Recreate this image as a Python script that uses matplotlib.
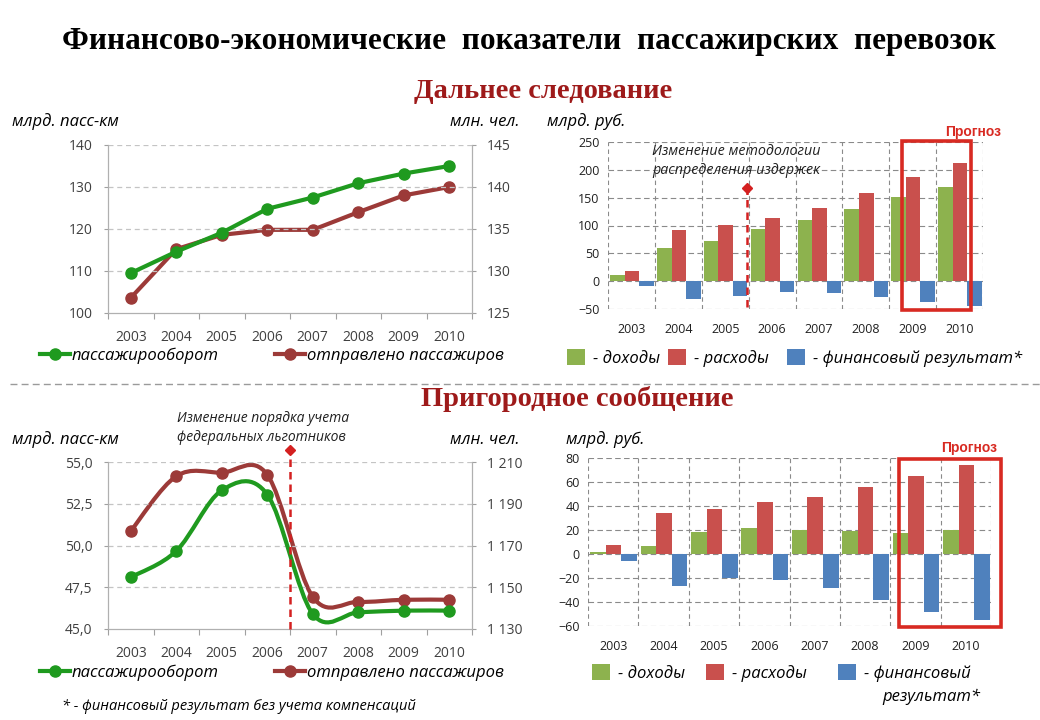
import numpy as np
import matplotlib
matplotlib.use('Agg')
import matplotlib.pyplot as plt
from matplotlib.path import Path
from matplotlib.patches import PathPatch, Rectangle, Patch
from matplotlib.lines import Line2D

plt.rcParams['font.family'] = ['Open Sans', 'DejaVu Sans']

W, H = 1040, 720

years = ['2003', '2004', '2005', '2006', '2007', '2008', '2009', '2010']

# Дальнее следование
ld_pkm = [109.5, 114.6, 119.1, 124.8, 127.5, 130.9, 133.2, 135.0]     # млрд. пасс-км
ld_pass = [126.8, 132.6, 134.3, 134.9, 134.9, 137.0, 139.0, 140.0]    # млн. чел.
ld_income = [11, 60, 73, 93, 110, 130, 151, 170]
ld_costs = [19, 92, 101, 114, 132, 159, 187, 213]
ld_result = [-8, -32, -26, -20, -22, -29, -37, -44]

# Пригородное сообщение
sub_pkm = [48.1, 49.67, 53.3, 53.05, 45.9, 46.0, 46.1, 46.1]
sub_pass = [1176.9, 1203.2, 1204.9, 1203.9, 1145.4, 1143.0, 1144.0, 1144.0]
sub_income = [1.3, 7, 18, 22, 20, 19, 17.6, 20]
sub_costs = [7.7, 34.3, 37.6, 43.4, 47.6, 55.9, 65, 74.2]
sub_result = [-6, -27, -20, -22, -28, -38, -48, -55]

GREEN = '#1f9a1f'
BROWN = '#9c3a38'
BAR_G = '#8db24e'
BAR_R = '#c9504d'
BAR_B = '#4f81bd'
DARKRED = '#9e1a1a'
BOXRED = '#d82a22'

fig = plt.figure(figsize=(W / 100, H / 100), dpi=100)


def px_axes(x0, y0, x1, y1):
    return fig.add_axes([x0 / W, 1 - y1 / H, (x1 - x0) / W, (y1 - y0) / H])


def smooth_path(x, y):
    # catmull-rom -> cubic bezier, like excel smoothed lines
    pts = np.column_stack([x, y]).astype(float)
    p = np.vstack([pts[0], pts, pts[-1]])
    verts = [pts[0]]
    codes = [Path.MOVETO]
    for i in range(1, len(p) - 2):
        c1 = p[i] + (p[i + 1] - p[i - 1]) / 6
        c2 = p[i + 1] - (p[i + 2] - p[i]) / 6
        verts += [c1, c2, p[i + 1]]
        codes += [Path.CURVE4] * 3
    return Path(verts, codes)


def line_panel(rect, left_vals, right_vals, lylim, lticks, lfmt, rylim, rticks, rfmt, smooth):
    ax = px_axes(*rect)
    ax2 = ax.twinx()
    x = np.arange(len(years))
    for a, vals, col in [(ax, left_vals, GREEN), (ax2, right_vals, BROWN)]:
        if smooth:
            a.add_patch(PathPatch(smooth_path(x, vals), fill=False, edgecolor=col, lw=3.0,
                                  capstyle='round', joinstyle='round'))
            a.plot(x, vals, ls='none', marker='o', ms=8, color=col)
        else:
            a.plot(x, vals, color=col, lw=3.0, marker='o', ms=8)
    ax.set_xlim(-0.5, 7.5)
    ax.set_ylim(*lylim)
    ax2.set_ylim(*rylim)
    ax.set_yticks(lticks)
    ax.set_yticklabels([lfmt(v) for v in lticks])
    ax2.set_yticks(rticks)
    ax2.set_yticklabels([rfmt(v) for v in rticks])
    ax.set_xticks(np.arange(-0.5, 8, 1))
    ax.set_xticklabels([])
    ax.set_xticks(x, minor=True)
    ax.set_xticklabels(years, minor=True)
    ax.tick_params(axis='x', which='major', length=4, color='#a0a0a0', direction='out')
    ax.tick_params(axis='x', which='minor', length=0, pad=12, labelsize=10, labelcolor='#404040')
    ax.tick_params(axis='y', length=3, color='#a0a0a0', labelsize=10, labelcolor='#404040', pad=8)
    ax2.tick_params(axis='y', length=3, color='#a0a0a0', labelsize=10, labelcolor='#404040', pad=8)
    for t in lticks[1:]:
        ax.axhline(t, color='#c4c4c4', lw=0.9, ls=(0, (4, 3)), zorder=0)
    for a in (ax, ax2):
        a.spines['top'].set_visible(False)
        for s in ('left', 'right', 'bottom'):
            a.spines[s].set_color('#b0b0b0')
    ax.set_zorder(ax2.get_zorder() + 1)
    ax.patch.set_visible(False)
    return ax, ax2


def line_legend(ax, y):
    h = [Line2D([], [], color=GREEN, lw=3.0, marker='o', ms=8),
         Line2D([], [], color=BROWN, lw=3.0, marker='o', ms=8)]
    ax.legend(h, ['пассажирооборот', 'отправлено пассажиров'], ncol=2, frameon=False,
              loc='center left', bbox_to_anchor=(40 / W, 1 - y / H), bbox_transform=fig.transFigure,
              handlelength=1.8, handletextpad=0.1, columnspacing=3.4,
              borderpad=0, borderaxespad=0,
              prop={'style': 'italic', 'size': 12})


def bar_panel(rect, inc, cost, res, ylim, yticks):
    ax = px_axes(*rect)
    x = np.arange(len(years))
    w = 0.31
    ax.bar(x - w + 0.01, inc, w, color=BAR_G, zorder=2)
    ax.bar(x + 0.01, cost, w, color=BAR_R, zorder=2)
    ax.bar(x + w + 0.01, res, w, color=BAR_B, zorder=2)
    ax.set_xlim(-0.5, 7.5)
    ax.set_ylim(*ylim)
    ax.set_yticks(yticks)
    ax.set_xticks(x)
    ax.set_xticklabels(years)
    ax.tick_params(length=0, labelsize=9, labelcolor='#202020')
    ax.tick_params(axis='x', pad=10)
    ax.tick_params(axis='y', pad=6)
    for t in yticks:
        ax.axhline(t, color='#8a8a8a', lw=0.8, ls=(0, (5, 3)), zorder=1)
    for b in np.arange(-0.5, 8, 1):
        ax.axvline(b, color='#8a8a8a', lw=0.8, ls=(0, (4, 3)), zorder=1)
    for s in ax.spines.values():
        s.set_visible(False)
    return ax


def bar_legend(x, y, third, gaps):
    # each entry placed on its own so the uneven spacing of the slide can be kept
    h = [Patch(facecolor=BAR_G), Patch(facecolor=BAR_R), Patch(facecolor=BAR_B)]
    labels = ['- доходы', '- расходы', third]
    for hi, lab, gx in zip(h, labels, gaps):
        fig.legend([hi], [lab], frameon=False, loc='center left',
                   bbox_to_anchor=((x + gx) / W, 1 - y / H),
                   handlelength=1.05, handleheight=1.05, handletextpad=0.5,
                   borderpad=0, borderaxespad=0,
                   prop={'style': 'italic', 'size': 12})


# titles
fig.text(529 / W, 1 - 42 / H, 'Финансово-экономические  показатели  пассажирских  перевозок',
         ha='center', va='center', fontsize=22.5, fontweight='bold', family='Liberation Serif')
fig.text(543 / W, 1 - 91 / H, 'Дальнее следование', ha='center', va='center', fontsize=20.5,
         fontweight='bold', family='Liberation Serif', color=DARKRED)
fig.text(577 / W, 1 - 399 / H, 'Пригородное сообщение', ha='center', va='center', fontsize=20.5,
         fontweight='bold', family='Liberation Serif', color=DARKRED)
fig.add_artist(Line2D([10 / W, 1.0], [1 - 384 / H, 1 - 384 / H], color='#9a9a9a', lw=1.0,
                      ls=(0, (5, 3)), transform=fig.transFigure))

# --- top left
ax, ax2 = line_panel((108, 145, 472, 313), ld_pkm, ld_pass, (100, 140), [100, 110, 120, 130, 140],
                     lambda v: '%d' % v, (125, 145), [125, 130, 135, 140, 145], lambda v: '%d' % v,
                     smooth=False)
line_legend(ax, 356)
fig.text(12 / W, 1 - 122 / H, 'млрд. пасс-км', fontsize=12, style='italic', va='center')
fig.text(520 / W, 1 - 122 / H, 'млн. чел.', fontsize=12, style='italic', va='center', ha='right')

# --- top right
axb = bar_panel((608, 142, 983, 309), ld_income, ld_costs, ld_result, (-50, 250),
                [-50, 0, 50, 100, 150, 200, 250])
axb.add_patch(Rectangle((5.77, -52.5), 1.48, 303.5, fill=False, edgecolor=BOXRED, lw=2.6,
                        clip_on=False, zorder=4))
axb.text(7.28, 268, 'Прогноз', ha='center', va='center', fontsize=10, fontweight='bold',
         color=BOXRED, family='Liberation Sans')
axb.plot([2.46, 2.46], [-47, 167], color='#d42020', lw=1.8, ls=(0, (3, 2)), clip_on=False, zorder=4)
axb.plot([2.46], [167], marker='D', ms=5, color='#d42020', clip_on=False, zorder=4)
fig.text(652 / W, 1 - 161 / H, 'Изменение методологии\nраспределения издержек', fontsize=10.3,
         style='italic', va='center', ha='left', linespacing=1.45, color='#202020')
fig.text(547 / W, 1 - 122 / H, 'млрд. руб.', fontsize=12, style='italic', va='center')
bar_legend(567, 358, '- финансовый результат*', [0, 101, 220])

# --- bottom left
ax, ax2 = line_panel((108, 462, 472, 629), sub_pkm, sub_pass, (45, 55), [45, 47.5, 50, 52.5, 55],
                     lambda v: ('%.1f' % v).replace('.', ','), (1130, 1210),
                     [1130, 1150, 1170, 1190, 1210],
                     lambda v: '{:,}'.format(int(v)).replace(',', ' '), smooth=True)
ax.plot([3.5, 3.5], [45, 55.7], color='#d42020', lw=1.8, ls=(0, (3, 2)), clip_on=False, zorder=5)
ax.plot([3.5], [55.7], marker='D', ms=5, color='#d42020', clip_on=False, zorder=5)
line_legend(ax, 673)
fig.text(12 / W, 1 - 440 / H, 'млрд. пасс-км', fontsize=12, style='italic', va='center')
fig.text(520 / W, 1 - 440 / H, 'млн. чел.', fontsize=12, style='italic', va='center', ha='right')
fig.text(177 / W, 1 - 428 / H, 'Изменение порядка учета\nфедеральных льготников', fontsize=10,
         style='italic', va='center', ha='left', linespacing=1.45, color='#202020')
fig.text(62 / W, 1 - 706 / H, '* - финансовый результат без учета компенсаций', fontsize=10.5,
         style='italic', va='center', ha='left')

# --- bottom right
axb = bar_panel((588, 458, 991, 626), sub_income, sub_costs, sub_result, (-60, 80),
                [-60, -40, -20, 0, 20, 40, 60, 80])
axb.add_patch(Rectangle((5.67, -60.5), 2.03, 139.5, fill=False, edgecolor=BOXRED, lw=2.6,
                        clip_on=False, zorder=4))
axb.text(7.06, 88.5, 'Прогноз', ha='center', va='center', fontsize=10, fontweight='bold',
         color=BOXRED, family='Liberation Sans')
fig.text(566 / W, 1 - 440 / H, 'млрд. руб.', fontsize=12, style='italic', va='center')
bar_legend(592, 673, '- финансовый', [0, 114, 246])
fig.text(980 / W, 1 - 697 / H, 'результат*', fontsize=12, style='italic', va='center', ha='right')

fig.savefig('out.png', dpi=100)
